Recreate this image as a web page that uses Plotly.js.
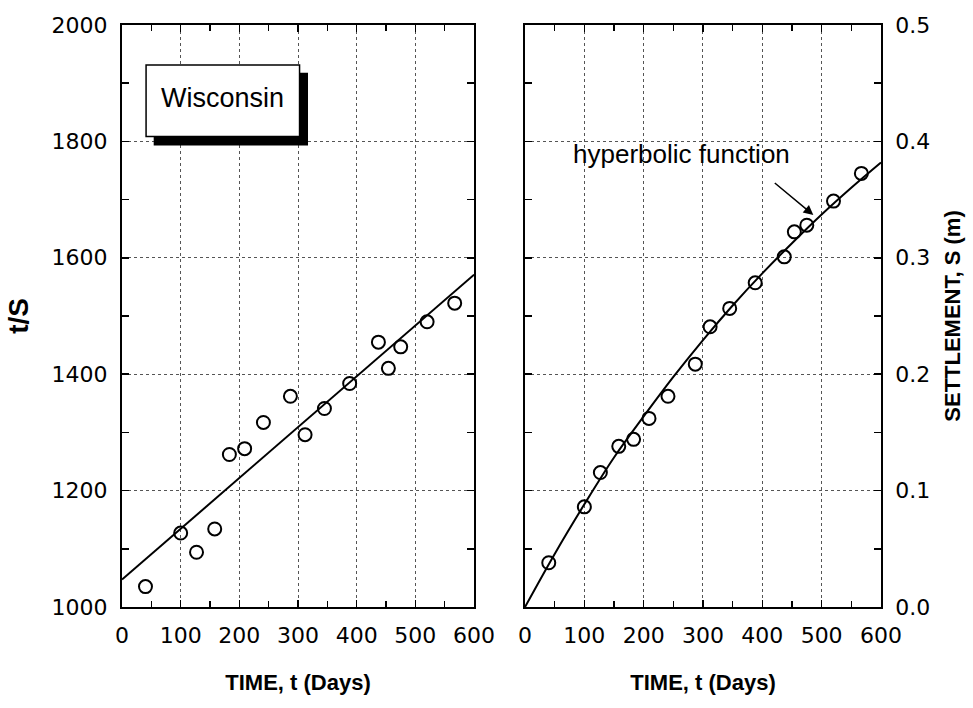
<!DOCTYPE html>
<html><head><meta charset="utf-8">
<script src="https://cdn.plot.ly/plotly-3.0.1.min.js"></script>
<style>html,body{margin:0;padding:0;background:#fff}#chart{width:973px;height:708px}</style>
</head><body><div id="chart"></div>
<script>
// Measured time of each observation (days)
const timeDays = [40, 100, 127, 158, 183, 209, 241, 287, 312, 345, 388, 437, 454, 475, 520, 567];
// t/S values (left panel)
const tOverS = [1035, 1127, 1094, 1134, 1262, 1272, 1317, 1362, 1296, 1341, 1384, 1455, 1410, 1447, 1490, 1522];
// Settlement S (m) (right panel)
const settlement = [0.038, 0.086, 0.1155, 0.138, 0.144, 0.162, 0.181, 0.2086, 0.2407, 0.2565, 0.2785, 0.3008, 0.3223, 0.328, 0.3487, 0.3725];
// Linear fit of t/S
const fitTime = [0, 600];
const fitTOverS = [1047, 1571];
// Hyperbolic function curve (right panel)
const curveTime = [0, 50, 100, 150, 200, 250, 300, 350, 400, 450, 500, 550, 600];
const curveSettlement = [0, 0.0456, 0.0882, 0.1284, 0.1637, 0.1976, 0.2293, 0.2590, 0.2866, 0.3125, 0.3372, 0.3602, 0.3819];
// Tick labels
const xTicks = [0, 100, 200, 300, 400, 500, 600];
const leftYTicks = [1000, 1200, 1400, 1600, 1800, 2000];
const rightYTicks = [0, 0.1, 0.2, 0.3, 0.4, 0.5];
const rightYTickLabels = ['0.0', '0.1', '0.2', '0.3', '0.4', '0.5'];

const tickFont = {family: 'DejaVu Sans', size: 22, color: '#000'};
const titleFont = {family: 'Liberation Sans, Arial', size: 22, color: '#000', weight: 'bold'};

function baseAxis(extra) {
  return Object.assign({
    showline: true, linecolor: '#000', linewidth: 2, mirror: 'ticks',
    ticks: 'inside', ticklen: 7, tickwidth: 1.5, tickcolor: '#000',
    showgrid: true, griddash: 'dot', gridcolor: '#555', gridwidth: 1,
    zeroline: false, tickfont: tickFont, fixedrange: true, automargin: false
  }, extra);
}

const markerStyle = {symbol: 'circle-open', size: 13, color: '#000', line: {width: 2, color: '#000'}};

const traces = [
  {x: fitTime, y: fitTOverS, mode: 'lines', line: {color: '#000', width: 2}, xaxis: 'x', yaxis: 'y', showlegend: false, name: 'linear fit'},
  {x: timeDays, y: tOverS, mode: 'markers', marker: markerStyle, xaxis: 'x', yaxis: 'y', showlegend: false, name: 't/S'},
  {x: curveTime, y: curveSettlement, mode: 'lines', line: {color: '#000', width: 2, shape: 'spline'}, xaxis: 'x2', yaxis: 'y2', showlegend: false, name: 'hyperbolic function'},
  {x: timeDays, y: settlement, mode: 'markers', marker: markerStyle, xaxis: 'x2', yaxis: 'y2', showlegend: false, name: 'S'}
];

const layout = {
  width: 973, height: 708,
  margin: {l: 0, r: 0, t: 0, b: 0},
  paper_bgcolor: '#fff', plot_bgcolor: '#fff',
  showlegend: false,
  xaxis: baseAxis({
    domain: [0.1254, 0.4872], range: [0, 600], tickvals: xTicks,
    minor: {dtick: 50, ticks: 'inside', ticklen: 6, tickcolor: '#000', tickwidth: 1.5, showgrid: false},
    ticklabelstandoff: 8,
    title: {text: 'TIME, t (Days)', font: titleFont, standoff: 27}
  }),
  yaxis: baseAxis({
    domain: [0.1427, 0.9647], range: [1000, 2000], tickvals: leftYTicks,
    minor: {dtick: 100, ticks: 'inside', ticklen: 7, tickcolor: '#000', tickwidth: 1.5, showgrid: false},
    ticklabelstandoff: 8,
    title: {text: 't/S', font: Object.assign({}, titleFont, {size: 28}), standoff: 15}
  }),
  xaxis2: baseAxis({
    domain: [0.5396, 0.9054], range: [0, 600], tickvals: xTicks, anchor: 'y2',
    minor: {dtick: 50, ticks: 'inside', ticklen: 6, tickcolor: '#000', tickwidth: 1.5, showgrid: false},
    ticklabelstandoff: 8,
    title: {text: 'TIME, t (Days)', font: titleFont, standoff: 27}
  }),
  yaxis2: baseAxis({
    domain: [0.1427, 0.9647], range: [0, 0.5], tickvals: rightYTicks, ticktext: rightYTickLabels,
    anchor: 'x2', side: 'right',
    minor: {dtick: 0.05, ticks: 'inside', ticklen: 7, tickcolor: '#000', tickwidth: 1.5, showgrid: false},
    ticklabelstandoff: 8,
    title: {text: 'SETTLEMENT, S (m)', font: titleFont, standoff: 15}
  }),
  shapes: [
    {type: 'rect', xref: 'x', yref: 'y', x0: 54, x1: 317, y0: 1793, y1: 1918, fillcolor: '#000', line: {width: 0}, layer: 'above'},
    {type: 'rect', xref: 'x', yref: 'y', x0: 41, x1: 302.6, y0: 1808.5, y1: 1931.4, fillcolor: '#fff', line: {width: 1.5, color: '#000'}, layer: 'above'}
  ],
  annotations: [
    {xref: 'x', yref: 'y', x: 172, y: 1875, text: 'Wisconsin', showarrow: false,
     font: {family: 'Liberation Sans, Arial', size: 27, color: '#000'}},
    {xref: 'x2', yref: 'y2', x: 264, y: 0.389, text: 'hyperbolic function', showarrow: false,
     font: {family: 'Liberation Sans, Arial', size: 26, color: '#000'}},
    {xref: 'x2', yref: 'y2', x: 486, y: 0.3367, ax: 418.5, ay: 0.3653, axref: 'x2', ayref: 'y2',
     text: '', showarrow: true, arrowhead: 2, arrowsize: 1.3, arrowwidth: 1.5, arrowcolor: '#000'}
  ]
};

Plotly.newPlot('chart', traces, layout, {staticPlot: true, displayModeBar: false});
</script>
</body></html>
